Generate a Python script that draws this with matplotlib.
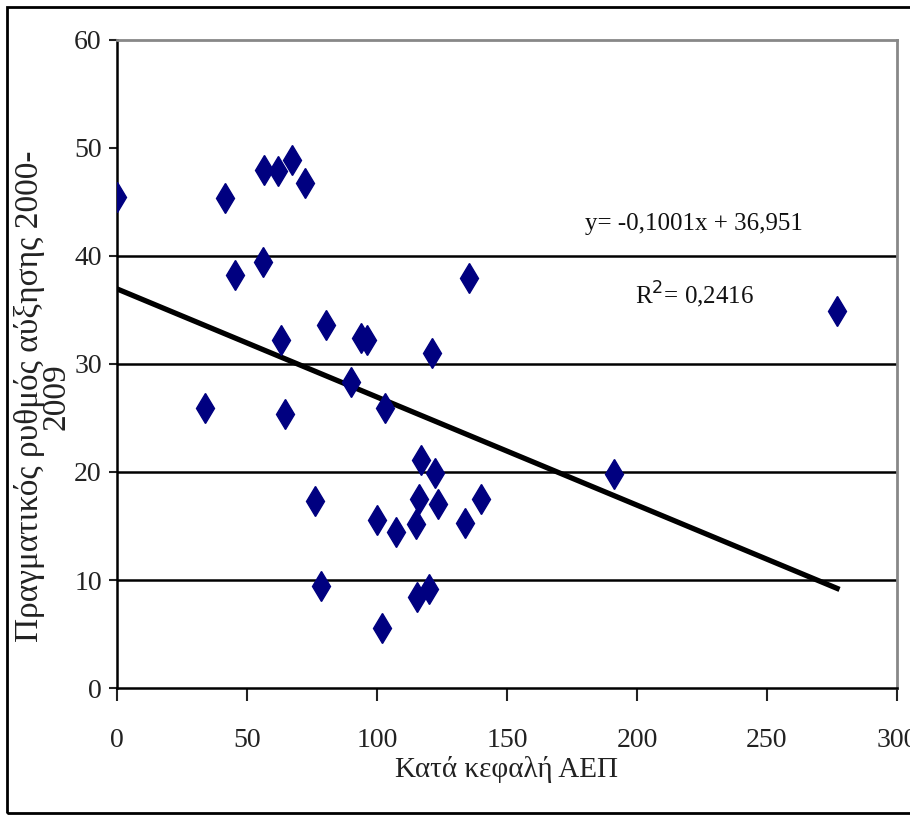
import matplotlib.pyplot as plt
from matplotlib.patches import Rectangle

# Κατά κεφαλή ΑΕΠ (x) και πραγματικός ρυθμός αύξησης 2000-2009 (y)
gdp = [0, 34, 41.5, 45.5, 56, 56.5, 62, 67.5, 72.5, 63, 64.5, 76, 78.5, 80.5,
       90, 94, 96, 103, 100, 107.5, 102, 115, 116, 117, 115.5, 120, 122.5,
       123.5, 121, 134, 135.5, 140, 191, 277]
growth = [45.5, 25.9, 45.4, 38.2, 39.4, 48.0, 47.9, 48.9, 46.8, 32.2, 25.4,
          17.3, 9.4, 33.6, 28.3, 32.4, 32.2, 25.9, 15.6, 14.4, 5.6, 15.2, 17.5,
          21.1, 8.4, 9.2, 19.9, 17.0, 31.0, 15.3, 38.0, 17.5, 19.8, 34.9]

slope = -0.1001
intercept = 36.951
r2 = 0.2416

x_ticks = [0, 50, 100, 150, 200, 250, 300]
y_ticks = [0, 10, 20, 30, 40, 50, 60]
grid_levels = [10, 20, 30, 40]

plt.rcParams['font.family'] = ['Liberation Serif', 'DejaVu Serif']

fig = plt.figure(figsize=(9.1, 8.15), dpi=100)
ax = fig.add_axes([0.1286, 0.1558, 0.857, 0.7952])

# Πλαίσιο γύρω από όλο το γράφημα
fig.patches.append(Rectangle((0.008, 0.003), 1.2, 0.988, transform=fig.transFigure,
                             fill=False, edgecolor='black', linewidth=2))

for g in grid_levels:
    ax.axhline(g, color='black', linewidth=1.8, zorder=1)

# Γραμμή τάσης
x_line = [0, max(gdp)]
y_line = [intercept + slope * v for v in x_line]
ax.plot(x_line, y_line, color='black', linewidth=3.8, zorder=2)

ax.plot(gdp, growth, linestyle='none', marker='d', markersize=15,
        color='#000080', zorder=3)

ax.text(222, 43, f"y= {slope:.4f}x + {intercept:.3f}".replace('.', ','),
        ha='center', va='center', fontsize=18, color='#111')
ax.text(222, 36.4, "R$^2$= " + f"{r2:.4f}".replace('.', ','),
        ha='center', va='center', fontsize=18, color='#111')

ax.set_xlim(0, 300)
ax.set_ylim(0, 60)
ax.set_xticks(x_ticks)
ax.set_yticks(y_ticks)
ax.tick_params(axis='x', direction='out', length=9, width=1.5, pad=20,
               labelsize=20, colors='#222')
ax.tick_params(axis='y', direction='out', length=6, width=1.5, pad=5,
               labelsize=20, colors='#222')

ax.spines['left'].set_linewidth(1.8)
ax.spines['bottom'].set_linewidth(1.8)
ax.spines['top'].set_color('#888888')
ax.spines['right'].set_color('#888888')
ax.spines['top'].set_linewidth(2)
ax.spines['right'].set_linewidth(2)

ax.set_xlabel("Κατά κεφαλή ΑΕΠ", fontsize=21, color='#222', labelpad=2)
ax.set_ylabel("Πραγματικός ρυθμός αύξησης 2000-\n2009", fontsize=24,
              color='#222', linespacing=0.85)
ax.yaxis.set_label_coords(-0.058, 0.45)

fig.savefig('out.png', dpi=100)
